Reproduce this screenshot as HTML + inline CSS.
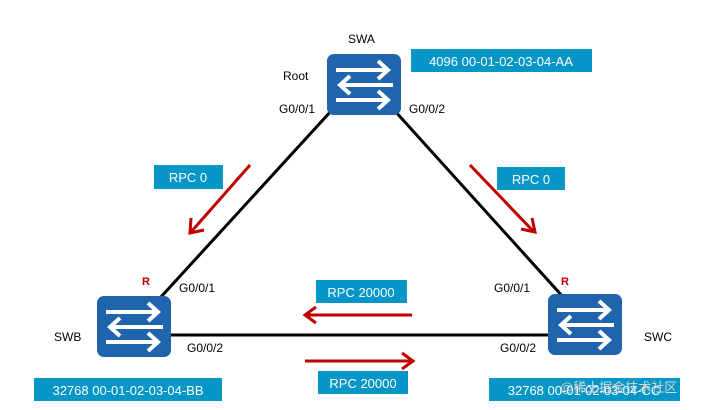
<!DOCTYPE html>
<html><head><meta charset="utf-8"><style>
html,body{margin:0;padding:0;background:#fff;}
svg{display:block;font-family:"Liberation Sans","DejaVu Sans",sans-serif;}
</style></head><body>
<svg width="708" height="410" viewBox="0 0 708 410" xmlns="http://www.w3.org/2000/svg">
<defs>
<g id="sw">
<rect x="0" y="0" width="74" height="61" rx="7" fill="#1f64ad"/>
<g stroke="#fff" stroke-width="4" fill="none" stroke-linecap="butt">
<line x1="9" y1="16" x2="60" y2="16"/><polyline points="51,7 61,16 51,25"/>
<line x1="14" y1="31" x2="66" y2="31"/><polyline points="23,22 13,31 23,40"/>
<line x1="9" y1="46" x2="60" y2="46"/><polyline points="51,37 61,46 51,55"/>
</g>
</g>
</defs>
<g stroke="#000" stroke-width="3">
<line x1="332" y1="110" x2="160" y2="298"/>
<line x1="394" y1="110" x2="564" y2="298"/>
<line x1="170" y1="335" x2="550" y2="335"/>
</g>
<use href="#sw" x="327" y="54"/>
<use href="#sw" x="97" y="296"/>
<use href="#sw" x="548" y="294"/>
<g stroke="#c00000" stroke-width="3" fill="none">
<line x1="250" y1="165" x2="191" y2="232"/><polyline points="191,218 190,233 204,230"/>
<line x1="470" y1="165" x2="534" y2="232"/><polyline points="521,229 535,232 532,218"/>
<line x1="412" y1="315" x2="306" y2="315"/><polyline points="316,307 305,315 316,323"/>
<line x1="305" y1="361" x2="412" y2="361"/><polyline points="402,353 413,361 402,369"/>
</g>
<g fill="#0596c8">
<rect x="411" y="49" width="181" height="23"/>
<rect x="154" y="165" width="69" height="24"/>
<rect x="497" y="167" width="68" height="23"/>
<rect x="316" y="280" width="91" height="23"/>
<rect x="318" y="371" width="90" height="23"/>
<rect x="34" y="378" width="188" height="23"/>
<rect x="489" y="378" width="191" height="23"/>
</g>
<g fill="#fff" font-size="13" text-anchor="middle">
<text x="501" y="66">4096 00-01-02-03-04-AA</text>
<text x="188" y="182">RPC 0</text>
<text x="531" y="184">RPC 0</text>
<text x="361" y="297">RPC 20000</text>
<text x="363" y="388">RPC 20000</text>
<text x="128" y="395">32768 00-01-02-03-04-BB</text>
<text x="584" y="395">32768 00-01-02-03-04-CC</text>
</g>
<g fill="#000" font-size="12">
<text x="348" y="43">SWA</text>
<text x="283" y="80">Root</text>
<text x="279" y="113">G0/0/1</text>
<text x="409" y="113">G0/0/2</text>
<text x="179" y="292">G0/0/1</text>
<text x="187" y="352">G0/0/2</text>
<text x="494" y="292">G0/0/1</text>
<text x="500" y="352">G0/0/2</text>
<text x="54" y="341">SWB</text>
<text x="644" y="341">SWC</text>
</g>
<g fill="#c00000" font-size="11" font-weight="bold">
<text x="142" y="285">R</text>
<text x="561" y="285">R</text>
</g>
<text x="560" y="392" fill="#d8d8d8" font-size="13" font-family="Liberation Sans,Noto Sans CJK SC,sans-serif">@稀土掘金技术社区</text>
</svg>
</body></html>
